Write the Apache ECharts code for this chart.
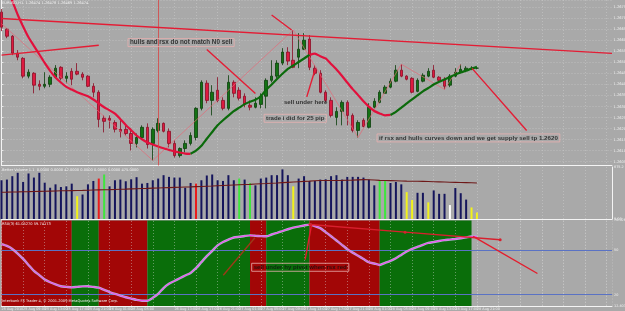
<!DOCTYPE html>
<html><head><meta charset="utf-8">
<script src="https://cdn.jsdelivr.net/npm/echarts@6/dist/echarts.min.js"></script>
<style>html,body{margin:0;padding:0;background:#a9a9a9;}#c{width:625px;height:311px;}</style>
</head><body><div id="c"></div>
<script>
// ---------------- DATA ----------------
const SLOTS = 114; // bar slots on the time axis (89 bars + empty future space)
const tickLabels = ['25 Aug 2010','25 Aug 09:00','25 Aug 13:00','25 Aug 17:00','25 Aug 21:00','26 Aug 01:00','26 Aug 05:00','26 Aug 09:00','26 Aug 13:00','26 Aug 17:00','26 Aug 21:00','27 Aug 01:00','27 Aug 05:00','27 Aug 09:00','27 Aug 13:00','27 Aug 17:00','27 Aug 21:00','28 Aug 01:00','28 Aug 05:00','28 Aug 09:00','28 Aug 13:00','28 Aug 17:00','28 Aug 21:00'];
const vlineIndex = 29;
const vlineLabel = '26 Aug 10:00';

const candleOpen = [1.26728,1.26651,1.26619,1.26542,1.26519,1.26438,1.26451,1.26401,1.26392,1.26401,
1.26433,1.26478,1.26428,1.26460,1.26460,1.26447,1.26438,1.26392,1.26365,1.26247,
1.26247,1.26228,1.26197,1.26197,1.26178,1.26133,1.26160,1.26206,1.26133,1.26192,
1.26224,1.26188,1.26133,1.26078,1.26110,1.26133,1.26160,1.26292,1.26406,1.26328,
1.26374,1.26328,1.26292,1.26410,1.26374,1.26347,1.26306,1.26297,1.26310,1.26347,
1.26419,1.26438,1.26497,1.26547,1.26510,1.26524,1.26560,1.26606,1.26474,1.26451,
1.26365,1.26328,1.26251,1.26278,1.26319,1.26260,1.26192,1.26238,1.26206,1.26297,
1.26319,1.26360,1.26388,1.26415,1.26465,1.26438,1.26428,1.26369,1.26415,1.26438,
1.26465,1.26433,1.26424,1.26397,1.26438,1.26456,1.26465,1.26469,1.26474];
const candleClose = [1.26660,1.26619,1.26542,1.26524,1.26438,1.26456,1.26397,1.26392,1.26401,1.26433,
1.26474,1.26428,1.26438,1.26424,1.26447,1.26433,1.26392,1.26365,1.26242,1.26233,
1.26238,1.26197,1.26188,1.26178,1.26133,1.26160,1.26206,1.26128,1.26197,1.26224,
1.26188,1.26133,1.26078,1.26110,1.26133,1.26169,1.26292,1.26410,1.26328,1.26365,
1.26328,1.26292,1.26410,1.26360,1.26338,1.26310,1.26297,1.26315,1.26347,1.26419,
1.26438,1.26497,1.26547,1.26506,1.26478,1.26560,1.26601,1.26478,1.26451,1.26365,
1.26328,1.26260,1.26278,1.26319,1.26260,1.26192,1.26228,1.26210,1.26297,1.26324,
1.26365,1.26388,1.26415,1.26465,1.26438,1.26424,1.26365,1.26419,1.26442,1.26460,
1.26433,1.26419,1.26392,1.26438,1.26456,1.26469,1.26474,1.26474,1.26474];
const candleLow = [1.26642,1.26610,1.26533,1.26510,1.26428,1.26428,1.26360,1.26374,1.26383,1.26388,
1.26428,1.26419,1.26406,1.26397,1.26442,1.26419,1.26388,1.26342,1.26206,1.26183,
1.26201,1.26183,1.26160,1.26169,1.26101,1.26115,1.26156,1.26110,1.26056,1.26183,
1.26183,1.26115,1.26069,1.26069,1.26092,1.26124,1.26147,1.26283,1.26315,1.26260,
1.26319,1.26283,1.26283,1.26342,1.26328,1.26297,1.26283,1.26292,1.26292,1.26292,
1.26410,1.26428,1.26488,1.26488,1.26474,1.26474,1.26556,1.26465,1.26442,1.26360,
1.26319,1.26251,1.26215,1.26215,1.26215,1.26183,1.26160,1.26206,1.26201,1.26292,
1.26315,1.26360,1.26383,1.26410,1.26433,1.26419,1.26360,1.26365,1.26410,1.26433,
1.26428,1.26410,1.26378,1.26388,1.26433,1.26451,1.26456,1.26465,1.26469];
const candleHigh = [1.26742,1.26656,1.26624,1.26556,1.26524,1.26469,1.26456,1.26419,1.26456,1.26442,
1.26488,1.26483,1.26456,1.26474,1.26497,1.26456,1.26442,1.26406,1.26374,1.26260,
1.26260,1.26238,1.26238,1.26215,1.26192,1.26178,1.26215,1.26224,1.26206,1.26247,
1.26228,1.26201,1.26147,1.26115,1.26147,1.26183,1.26297,1.26419,1.26419,1.26397,
1.26433,1.26342,1.26442,1.26419,1.26388,1.26360,1.26328,1.26342,1.26360,1.26428,
1.26510,1.26510,1.26565,1.26569,1.26647,1.26633,1.26633,1.26624,1.26488,1.26465,
1.26374,1.26342,1.26297,1.26328,1.26328,1.26269,1.26238,1.26247,1.26315,1.26338,
1.26374,1.26397,1.26428,1.26488,1.26492,1.26442,1.26433,1.26428,1.26451,1.26474,
1.26488,1.26438,1.26433,1.26447,1.26474,1.26492,1.26483,1.26483,1.26478];

const hullValues = [1.26892,1.26835,1.26778,1.26716,1.26663,1.26614,1.26575,1.26537,1.26498,1.26462,
1.26432,1.26409,1.26389,1.26377,1.26365,1.26356,1.26347,1.26332,1.26314,1.26297,
1.26283,1.26268,1.26243,1.26217,1.26193,1.26169,1.26152,1.26137,1.26128,1.26119,
1.26111,1.26104,1.26097,1.26092,1.26087,1.26086,1.26100,1.26122,1.26154,1.26185,
1.26215,1.26238,1.26259,1.26279,1.26295,1.26311,1.26322,1.26331,1.26347,1.26376,
1.26400,1.26425,1.26449,1.26471,1.26486,1.26502,1.26518,1.26534,1.26540,1.26528,
1.26518,1.26493,1.26468,1.26440,1.26409,1.26379,1.26352,1.26324,1.26300,1.26280,
1.26269,1.26260,1.26262,1.26276,1.26295,1.26314,1.26333,1.26351,1.26369,1.26384,
1.26400,1.26412,1.26423,1.26434,1.26445,1.26455,1.26463,1.26472,1.26480];
// d = falling hull, u = rising hull
const hullTrend = ('ddddddddddddddddddddddddddddddddddd' + 'uuuuuuuuuuuuuuuuuuuuuu' + 'ddddddddddddddd' + 'uuuuuuuuuuuuuuuuu').split('');

const zigzagIndex = [0, 28, 54, 66, 74, 82, 85];
const zigzagPrice = [1.26676, 1.26056, 1.26647, 1.26160, 1.26492, 1.26378, 1.26492];

const levelPrices = [1.26433, 1.26288];
const bidPrice = 1.26474;

const volumeValues = [503,512,556,600,481,591,538,600,472,406,
450,415,424,459,296,318,450,494,525,578,
424,503,512,490,516,543,459,468,503,525,
569,547,538,538,406,468,459,503,565,578,
503,494,569,503,525,512,468,437,525,538,
569,569,644,569,424,525,556,494,494,512,
516,556,569,512,547,547,547,538,512,437,
494,494,468,481,450,349,247,340,340,216,
371,327,327,181,402,335,252,150,84];
// n neutral, l low volume, h climax high, c churn, w climax low
const volumeType = ('nnnnnnnnnnnnnn' + 'l' + 'nnn' + 'h' + 'c' + 'nnnnnnnnnnnnnnnn' + 'h' + 'nnnnnnn' + 'c' + 'n' + 'c' + 'nnnnnnn' + 'l' + 'nnnnnnnnnnnnnnn' + 'cc' + 'nnn' + 'll' + 'nn' + 'l' + 'nnn' + 'w' + 'nnn' + 'll').split('');
const volumeAvg = [348,349,351,352,354,355,357,359,360,362,
364,366,367,369,371,372,374,376,378,379,
381,384,386,388,391,393,396,398,401,403,
406,408,410,412,415,417,420,422,425,428,
432,435,438,441,444,447,450,454,457,460,
465,468,472,476,480,484,488,492,497,499,
500,500,500,501,503,505,508,511,510,506,
502,500,498,496,494,492,491,490,488,486,
484,482,480,478,476,474,472,470,468];
const volumeMax = 675.2;

const rsxValues = [54.08,52.88,50.87,47.78,44.16,40.08,36.12,33.24,30.28,28.41,
26.93,25.73,25.33,24.93,25.27,25.60,25.67,25.27,24.73,23.26,
21.79,20.52,19.44,18.30,17.43,16.49,15.96,15.96,17.90,20.58,
24.53,27.41,29.22,31.10,32.97,34.72,37.87,41.95,45.97,49.59,
53.28,55.55,57.16,58.57,59.04,59.57,59.98,59.71,59.51,59.37,
60.58,61.72,62.92,64.13,65.27,65.94,66.68,67.28,66.27,64.87,
62.19,59.44,56.56,53.61,50.73,48.38,46.24,44.10,41.89,41.02,
40.08,41.42,42.83,44.63,46.84,49.12,50.87,52.27,53.68,54.89,
55.55,56.23,56.83,57.16,57.56,58.03,58.64,59.24,59.31];
// background state per bar: d = red, u = green
const rsxTrend = ('ddddddddddddd' + 'uuuuu' + 'ddddddddd' + 'uuuuuuuuuuuuuuuuuuu' + 'ddd' + 'uuuuuuuu' + 'ddddddddddddd' + 'uuuuuuuuuuuuuuuuu').split('');
const rsxMin = 12.4036, rsxMax = 70.0264;
const rsxLevels = [50, 20];

// hand-drawn trend lines: [barIndex, price]
const priceLines = [
  [[0, 1.26699], [113, 1.26541]],
  [[0, 1.26533], [18, 1.26578]],
  [[38, 1.26559], [47, 1.26359]],
  [[50, 1.26715], [53.7, 1.26647]],
  [[56.5, 1.26344], [58, 1.26465]],
  [[87.1, 1.26473], [97.2, 1.26192]]
];
// hand-drawn lines in RSX window: [barIndex, rsx]
const rsxLines = [
  [[41.05, 33.17], [46.9, 58.43]],
  [[56.2, 43.7], [57.4, 67.35]],
  [[57.1, 67.35], [74.7, 62.19], [92.3, 57.1]],
  [[87.3, 59.3], [99.2, 34.3]]
];

const noteText = ['hulls and rsx do not match N0 sell', 'sell under here', 'trade i did for 25 pip', 'if rsx and hulls curves down and we get supply sell tp 1.2620'];
const noteX = [23.4, 51.9, 48.6, 69.5];
const noteY = [1.26590, 1.26319, 1.26247, 1.26158];
const rsxNoteText = 'sell under hy pivot when rsx red';
const rsxNoteX = 46.3, rsxNoteY = 38.5;

const titleMain = 'EURUSD,H1  1.26474 1.26478 1.26469 1.26474';
const titleVolume = 'Better Volume 1.1  0.0000 0.0000 42.0000 0.0000 0.0000 0.0000 475.0000';
const titleRsx = 'RSX(3) 61.05270 59.74173';
const footer = 'Interbank FX Trader 4, \u00a9 2001-2009 MetaQuotes Software Corp.';

// ---------------- STYLE / BUILD ----------------
const BG = '#a9a9a9', FG = '#f0f0f0', GRIDC = '#c2c2c2';
const FONT = 'Liberation Sans, Arial, sans-serif';
const cats = [];
for (let i = 0; i < SLOTS; i++) cats.push(String(i));
const labelAt = {};
tickLabels.forEach((t, k) => { labelAt[k * 4] = t; });

const candleData = candleOpen.map((o, i) => [o, candleClose[i], candleLow[i], candleHigh[i]]);

function trendSeriesData(vals, trend, key) {
  return vals.map((v, i) => {
    if (trend[i] === key) return v;
    if (i > 0 && trend[i - 1] === key) return v;
    return null;
  });
}
const hullDown = trendSeriesData(hullValues, hullTrend, 'd');
const hullUp = trendSeriesData(hullValues, hullTrend, 'u');

const volColors = { n: '#15155c', l: '#f2f21a', h: '#ea1c1c', c: '#3ee63e', w: '#ffffff' };
const volData = volumeValues.map((v, i) => ({ value: v, itemStyle: { color: volColors[volumeType[i]] } }));

// RSX background runs
const rsxAreas = [];
let s = 0;
for (let i = 1; i <= rsxTrend.length; i++) {
  if (i === rsxTrend.length || rsxTrend[i] !== rsxTrend[s]) {
    rsxAreas.push([{ xAxis: s, itemStyle: { color: rsxTrend[s] === 'u' ? '#0a6e0a' : '#a20606' } }, { xAxis: i }]);
    s = i;
  }
}
const vGrid = [];
for (let i = 0; i < SLOTS; i += 4) vGrid.push({ xAxis: i, lineStyle: { color: 'rgba(215,215,215,0.55)', type: [1, 2], width: 0.8 }, label: { show: false } });

const boxedNotes = [0, 2, 3];
const noteSize = [6.3, 6.1, 6.1, 6.2];
const noteSeriesData = noteText.map((t, i) => ({
  value: [noteX[i], noteY[i]],
  label: {
    show: true, position: 'right', distance: 0, formatter: t,
    color: '#111', fontSize: noteSize[i], fontWeight: 'bold', fontFamily: FONT,
    padding: [1, 2],
    borderColor: boxedNotes.includes(i) ? '#e8b0b0' : 'transparent', borderWidth: boxedNotes.includes(i) ? 1 : 0
  }
}));

const smallText = { color: FG, fontSize: 3.6, fontWeight: 'normal', fontFamily: 'DejaVu Sans, sans-serif' };

const series = [];
series.push({
  type: 'candlestick', xAxisIndex: 0, yAxisIndex: 0, data: candleData, barWidth: 3,
  itemStyle: { color: '#137213', color0: '#de1a40', borderColor: '#0b3f0b', borderColor0: '#8c0c24', borderWidth: 0.8 },
  markLine: {
    symbol: ['none', 'none'], silent: true, animation: false,
    data: levelPrices.map(v => ({
      yAxis: v, lineStyle: { color: '#d42424', type: [3, 2], width: 0.8 },
      label: { show: true, position: 'end', distance: 1, formatter: v.toFixed(5), backgroundColor: '#e01a1a', color: '#fff', fontSize: 3.6, padding: [1, 1], fontFamily: 'DejaVu Sans, sans-serif' }
    })).concat([
      { yAxis: bidPrice, lineStyle: { opacity: 0 }, label: { show: true, position: 'end', distance: 1, formatter: bidPrice.toFixed(5), backgroundColor: '#ffffff', color: '#000', fontSize: 3.6, padding: [1, 1], fontFamily: 'DejaVu Sans, sans-serif' } },
      { xAxis: vlineIndex, lineStyle: { color: '#d84444', type: 'solid', width: 0.8 }, label: { show: false } }
    ])
  }
});
series.push({ type: 'line', xAxisIndex: 0, yAxisIndex: 0, data: hullDown, symbol: 'none', smooth: 0.2, lineStyle: { color: '#e2103c', width: 2.2 }, z: 4 });
series.push({ type: 'line', xAxisIndex: 0, yAxisIndex: 0, data: hullUp, symbol: 'none', smooth: 0.2, lineStyle: { color: '#0b6a0b', width: 2.2 }, z: 4 });
series.push({ type: 'line', xAxisIndex: 3, yAxisIndex: 0, data: zigzagIndex.map((x, i) => [x, zigzagPrice[i]]), symbol: 'none', lineStyle: { color: '#e46a78', width: 0.7 }, z: 3 });
priceLines.forEach(pts => series.push({ type: 'line', xAxisIndex: 3, yAxisIndex: 0, data: pts, symbol: 'none', lineStyle: { color: '#e41c34', width: 1.4 }, z: 5 }));
series.push({ type: 'scatter', xAxisIndex: 3, yAxisIndex: 0, data: noteSeriesData, symbolSize: 0.1, itemStyle: { color: 'transparent' }, z: 6 });

// volume
series.push({ type: 'bar', xAxisIndex: 1, yAxisIndex: 1, data: volData, barWidth: 2 });
series.push({ type: 'line', xAxisIndex: 1, yAxisIndex: 1, data: volumeAvg, symbol: 'none', lineStyle: { color: '#6e1818', width: 1.1 }, z: 4 });

// RSX
series.push({
  type: 'line', xAxisIndex: 2, yAxisIndex: 2, data: rsxValues, symbol: 'none', smooth: 0.2,
  lineStyle: { color: '#b2b2d8', width: 2.4 }, z: 3,
  markArea: { silent: true, z: 1, data: rsxAreas },
  markLine: {
    symbol: ['none', 'none'], silent: true, z: 1.5,
    data: vGrid.concat(rsxLevels.map(v => ({ yAxis: v, lineStyle: { color: '#5a72c4', width: 1, type: 'solid' }, label: { show: false } }))).concat([
      { xAxis: vlineIndex, lineStyle: { opacity: 0 }, label: { show: true, position: 'start', distance: 2, formatter: vlineLabel, backgroundColor: '#e01a1a', color: '#fff', fontSize: 3.4, padding: [1, 2], fontFamily: 'DejaVu Sans, sans-serif' } }
    ])
  }
});
series.push({ type: 'line', xAxisIndex: 2, yAxisIndex: 2, data: rsxValues, symbol: 'none', smooth: 0.2, lineStyle: { color: '#ff3cf0', width: 1 }, z: 4 });
const rsxLineColors = ['#9c3a18', '#e41c2c', '#d8202e', '#e41c2c'];
rsxLines.forEach((pts, k) => series.push({
  type: 'line', xAxisIndex: 4, yAxisIndex: 2, data: pts, z: 6,
  symbol: k === 2 ? 'circle' : 'none', symbolSize: 3, showSymbol: k === 2,
  itemStyle: { color: rsxLineColors[k] }, lineStyle: { color: rsxLineColors[k], width: 1.4 }
}));
series.push({ type: 'scatter', xAxisIndex: 4, yAxisIndex: 2, symbolSize: 0.1, itemStyle: { color: 'transparent' }, z: 7,
  data: [{ value: [rsxNoteX, rsxNoteY], label: { show: true, position: 'right', distance: 0, formatter: rsxNoteText, color: '#111', fontSize: 6.1, fontWeight: 'bold', fontFamily: FONT, padding: [1, 2], borderColor: '#e8b0b0', borderWidth: 1 } }] });

const catAxisBase = (gi) => ({
  type: 'category', gridIndex: gi, data: cats, boundaryGap: false,
  axisLine: { show: true, onZero: false, lineStyle: { color: '#f4f4f4', width: 1 } },
  axisTick: { show: false }, axisLabel: { show: false },
  splitLine: { show: true, interval: 3, lineStyle: { color: GRIDC, type: [1, 2], width: 0.8 } }
});
const xAxes = [catAxisBase(0), catAxisBase(1), catAxisBase(2)];
xAxes[2].axisLabel = {
  show: true, interval: 0, align: 'left', margin: 2, color: FG, fontSize: 3.4, fontFamily: 'DejaVu Sans, sans-serif',
  formatter: (v, i) => (labelAt[i] !== undefined && Math.abs(i - vlineIndex) > 2) ? labelAt[i] : ''
};
xAxes.push({ type: 'value', gridIndex: 0, min: 0, max: SLOTS - 1, show: false });
xAxes.push({ type: 'value', gridIndex: 2, min: 0, max: SLOTS - 1, show: false });

const grids = [
  { left: 1.5, right: 13, top: 0, height: 165.5 },
  { left: 1.5, right: 13, top: 167, height: 52 },
  { left: 1.5, right: 13, top: 220.5, height: 85.5 }
].map(g => Object.assign(g, { containLabel: false, outerBoundsMode: 'none' }));

const option = {
  backgroundColor: BG,
  animation: false,
  textStyle: { fontFamily: FONT },
  title: [
    { text: titleMain, left: 2, top: 1, padding: 0, textStyle: smallText },
    { text: titleVolume, left: 2, top: 168.5, padding: 0, textStyle: smallText },
    { text: titleRsx, left: 2, top: 222, padding: 0, textStyle: smallText },
    { text: footer, left: 2, top: 299.5, padding: 0, textStyle: smallText }
  ],
  grid: grids,
  xAxis: xAxes,
  yAxis: [
    { type: 'value', gridIndex: 0, position: 'right', min: 1.26033, max: 1.26783, splitNumber: 15, minInterval: 0.0005, maxInterval: 0.0005,
      axisLine: { show: true, lineStyle: { color: '#f4f4f4', width: 1 } },
      axisTick: { show: true, length: 2, lineStyle: { color: '#e8e8e8' } },
      axisLabel: { color: FG, fontSize: 3.6, margin: 1.5, showMinLabel: false, showMaxLabel: false, fontFamily: 'DejaVu Sans, sans-serif', formatter: v => v.toFixed(5) },
      splitLine: { show: true, lineStyle: { color: GRIDC, type: [1, 2], width: 0.8 } } },
    { type: 'value', gridIndex: 1, position: 'right', min: 0, max: volumeMax, interval: volumeMax,
      axisLine: { show: true, lineStyle: { color: '#f4f4f4', width: 1 } },
      axisTick: { show: false },
      axisLabel: { color: FG, fontSize: 3.4, margin: 2, fontFamily: 'DejaVu Sans, sans-serif', formatter: v => v === 0 ? '0.00' : volumeMax.toFixed(1) },
      splitLine: { show: false } },
    { type: 'value', gridIndex: 2, position: 'right', min: rsxMin, max: rsxMax, minInterval: 10, maxInterval: 10, splitNumber: 6,
      axisLine: { show: true, lineStyle: { color: '#f4f4f4', width: 1 } },
      axisTick: { show: false },
      axisLabel: { color: FG, fontSize: 3.4, margin: 2, fontFamily: 'DejaVu Sans, sans-serif',
        formatter: v => (Math.abs(v - rsxMax) < 1e-6 || Math.abs(v - rsxMin) < 1e-6) ? v.toFixed(4) : (rsxLevels.includes(Math.round(v)) && Math.abs(v - Math.round(v)) < 1e-6 ? String(Math.round(v)) : '') },
      splitLine: { show: false } }
  ],
  series: series
};
const chart = echarts.init(document.getElementById('c'), null, { renderer: 'canvas', width: 625, height: 311 });
chart.setOption(option);
</script>
</body></html>
